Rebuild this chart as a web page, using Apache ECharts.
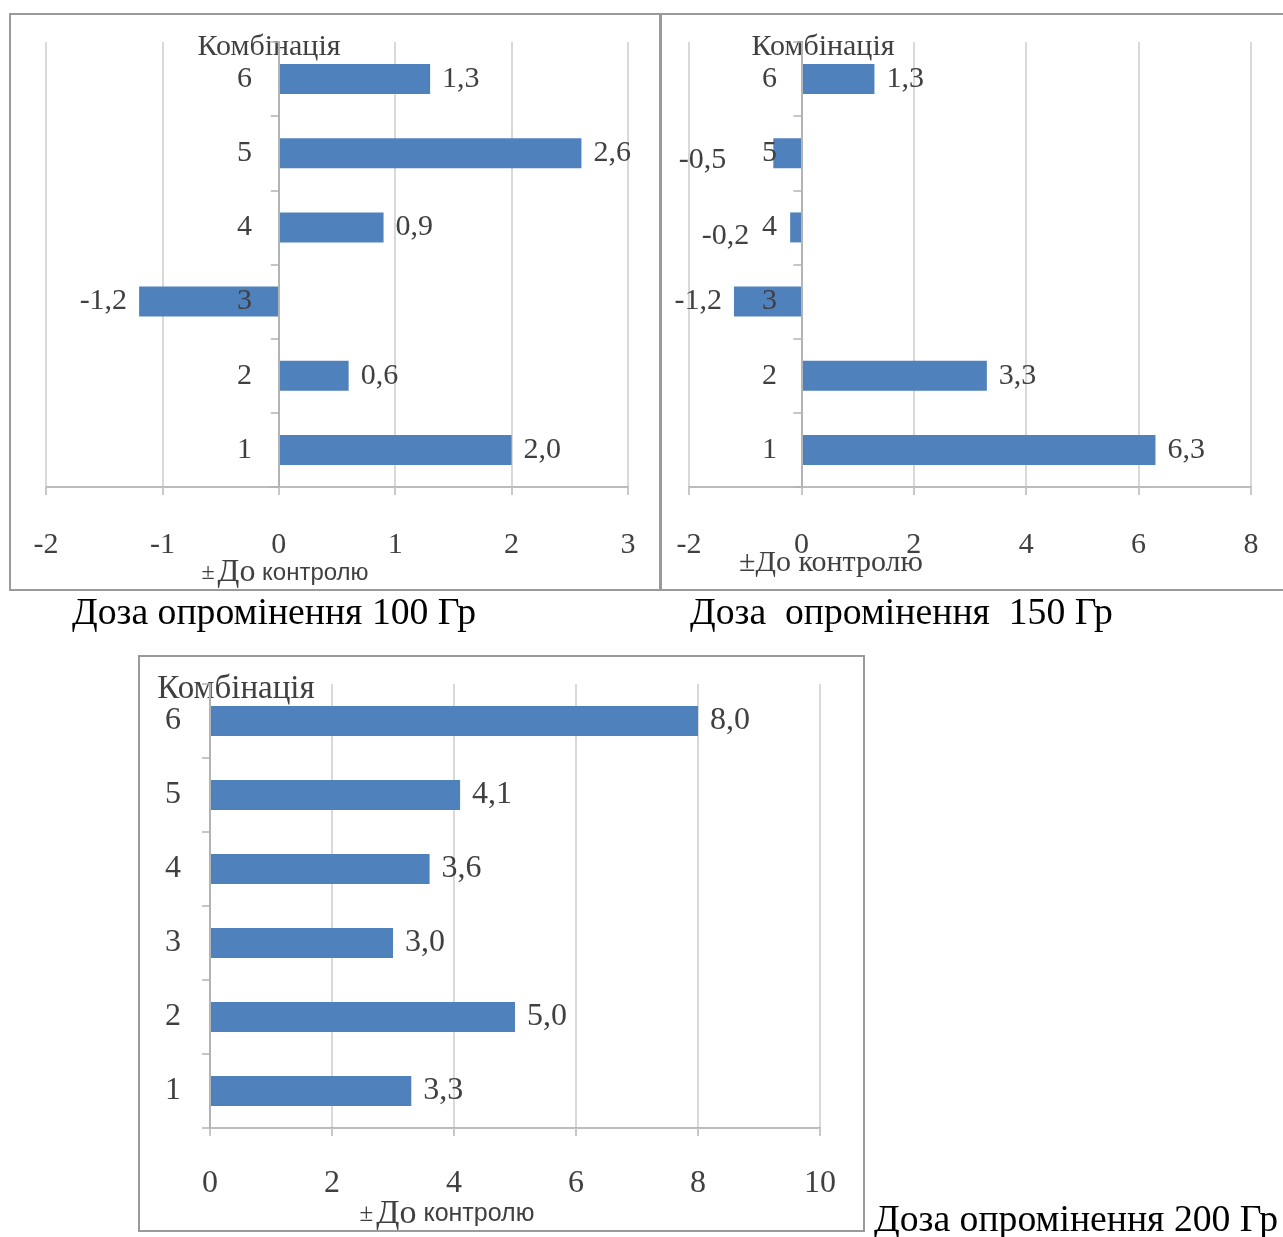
<!DOCTYPE html>
<html>
<head>
<meta charset="utf-8">
<title>Комбінації — відхилення від контролю</title>
<script src="https://cdn.jsdelivr.net/npm/echarts@6/dist/echarts.min.js"></script>
<style>
  html, body { margin: 0; padding: 0; background: #ffffff; }
  #chart { width: 1283px; height: 1237px; }
</style>
</head>
<body>
<div id="chart"></div>
<script>
// Combination numbers (bottom to top on each category axis)
const combinations = ['1', '2', '3', '4', '5', '6'];

// Deviation from control for each combination, per irradiation dose
const dose100 = [2.0, 0.6, -1.2, 0.9, 2.6, 1.3];
const dose150 = [6.3, 3.3, -1.2, -0.2, -0.5, 1.3];
const dose200 = [3.3, 5.0, 3.0, 3.6, 4.1, 8.0];

// Value-axis tick ranges: [min, max, interval]
const ticks100 = [-2, 3, 1];
const ticks150 = [-2, 8, 2];
const ticks200 = [0, 10, 2];

// Texts
const categoryTitle = 'Комбінація';
const captions = ['Доза опромінення 100 Гр', 'Доза  опромінення  150 Гр', 'Доза опромінення 200 Гр'];

const SERIF = '"Liberation Serif", "Times New Roman", serif';
const NARROW = '"Liberation Sans Narrow", "Liberation Sans", Arial, sans-serif';
const TEXT = '#404040';
const BAR = '#4f81bd';
const GRIDLINE = '#d9d9d9';
const AXISLINE = '#b3b3b3';

const fmt = v => v.toFixed(1).replace('.', ',');

// Panel layout: plot rectangles and type sizes.
// yMargin is measured from the grid's left edge, so the category labels
// sit next to the zero line where the value axis crosses it.
const panels = [
  { values: dose100, ticks: ticks100, left: 46, right: 655, top: 42, bottom: 750, font: 30, yMargin: -206, xMargin: 43,
    nudges: {} },
  { values: dose150, ticks: ticks150, left: 689, right: 32, top: 42, bottom: 750, font: 30, yMargin: -88, xMargin: 43,
    nudges: { 3: [-29, 9], 4: [-35, 7] } },
  { values: dose200, ticks: ticks200, left: 210, right: 463, top: 684, bottom: 109, font: 32, yMargin: 29, xMargin: 40,
    nudges: {} }
];

const grid = panels.map(p => ({ left: p.left, right: p.right, top: p.top, bottom: p.bottom, containLabel: false, outerBoundsMode: 'none' }));

const xAxis = panels.map((p, i) => ({
  type: 'value', gridIndex: i,
  min: p.ticks[0], max: p.ticks[1], interval: p.ticks[2],
  axisLine: { show: true, onZero: false, lineStyle: { color: '#a6a6a6', width: 1.5 } },
  axisTick: { show: true, length: 8, lineStyle: { color: '#c8c8c8', width: 2 } },
  splitLine: { show: true, lineStyle: { color: GRIDLINE, width: 2 } },
  axisLabel: { margin: p.xMargin, color: TEXT, fontFamily: SERIF, fontSize: p.font }
}));

const yAxis = panels.map((p, i) => ({
  type: 'category', gridIndex: i, data: combinations, z: 10,
  axisLine: { show: true, onZero: true, lineStyle: { color: AXISLINE, width: 2 } },
  axisTick: { show: true, length: 8, lineStyle: { color: AXISLINE, width: 1.5 } },
  splitLine: { show: false },
  axisLabel: { margin: p.yMargin, align: 'right', padding: [4, 0, 0, 0], color: TEXT, fontFamily: SERIF, fontSize: p.font }
}));

const series = panels.map((p, i) => ({
  type: 'bar', xAxisIndex: i, yAxisIndex: i,
  barWidth: 30,
  itemStyle: { color: BAR },
  label: {
    show: true, distance: 12, padding: [4, 0, 0, 0], color: TEXT, fontFamily: SERIF, fontSize: p.font,
    formatter: d => fmt(d.value)
  },
  data: p.values.map((v, k) => ({
    value: v,
    label: Object.assign({ position: v < 0 ? 'left' : 'right' },
      p.nudges[k] ? { offset: p.nudges[k] } : {})
  }))
}));

// Axis titles written beside each panel
const title = (x, y, text, size) => ({
  type: 'text', x, y, silent: true,
  style: { text, fill: TEXT, font: `${size}px ${SERIF}`, align: 'center', verticalAlign: 'middle' }
});
const mixedValueTitle = (x, y, big, small) => ({
  type: 'text', x, y, silent: true,
  style: {
    text: '{a|±}{b|До}{c| контролю}', align: 'center', verticalAlign: 'middle',
    rich: {
      a: { fill: TEXT, fontFamily: SERIF, fontSize: small, padding: [0, 3, 0, 0] },
      b: { fill: TEXT, fontFamily: SERIF, fontSize: big },
      c: { fill: TEXT, fontFamily: NARROW, fontSize: small }
    }
  }
});
const caption = (x, y, text) => ({
  type: 'text', x, y, silent: true,
  style: { text, fill: '#000000', font: `37.7px ${SERIF}`, align: 'left', verticalAlign: 'middle' }
});
const frame = (x, y, w, h) => ({
  type: 'rect', silent: true, z: -1,
  shape: { x, y, width: w, height: h },
  style: { fill: 'none', stroke: '#9a9a9a', lineWidth: 2 }
});

const chart = echarts.init(document.getElementById('chart'), null, { renderer: 'canvas' });
chart.setOption({
  animation: false,
  backgroundColor: '#ffffff',
  grid, xAxis, yAxis, series,
  graphic: [
    frame(10, 14, 650, 576),
    frame(661, 14, 640, 576),
    frame(139, 656, 725, 575),
    title(269, 47, categoryTitle, 30),
    title(823, 47, categoryTitle, 30),
    title(236, 689, categoryTitle, 33),
    mixedValueTitle(285, 573, 32, 24),
    title(831, 563, '±До контролю', 30),
    mixedValueTitle(447, 1214, 34, 25),
    caption(72, 614, captions[0]),
    caption(690, 614, captions[1]),
    caption(874, 1221, captions[2])
  ]
});
</script>
</body>
</html>
